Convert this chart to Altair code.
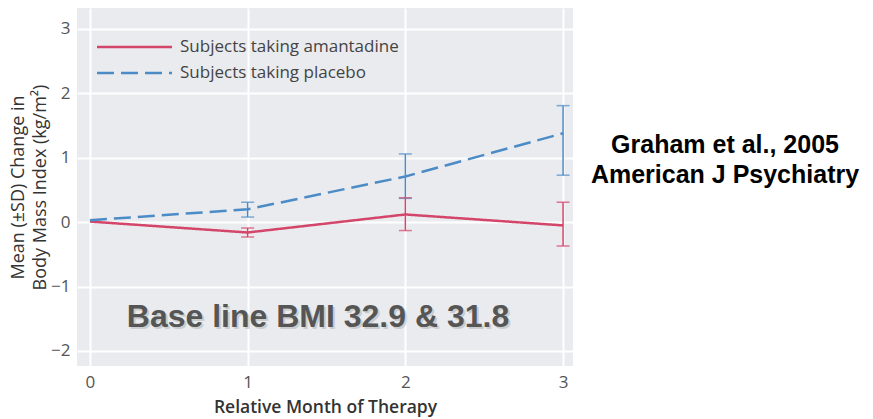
import altair as alt
import pandas as pd

# ---- data ----
months = [0, 1, 2, 3]
groups = ["Subjects taking amantadine", "Subjects taking placebo"]
amantadine_mean = [0.01, -0.16, 0.12, -0.05]
amantadine_low = [None, -0.23, -0.13, -0.37]
amantadine_high = [None, -0.09, 0.38, 0.31]
placebo_mean = [0.03, 0.20, 0.71, 1.38]
placebo_low = [None, 0.08, 0.37, 0.73]
placebo_high = [None, 0.31, 1.06, 1.81]
x_ticks = [0, 1, 2, 3]
y_ticks = [-2, -1, 0, 1, 2, 3]
colors = ["#d4456a", "#4b8bc6"]
dashes = [[1, 0], [17, 7]]

rows = []
for g, means, lows, highs in [
    (groups[0], amantadine_mean, amantadine_low, amantadine_high),
    (groups[1], placebo_mean, placebo_low, placebo_high),
]:
    for m, v, lo, hi in zip(months, means, lows, highs):
        rows.append({"group": g, "month": m, "mean": v, "low": lo, "high": hi})
df = pd.DataFrame(rows)
err = df.dropna(subset=["low"])

FONT = "Open Sans"
xscale = alt.Scale(domain=[-0.082, 3.063], nice=False, zero=False)
yscale = alt.Scale(domain=[-2.233, 3.326], nice=False, zero=False)
cscale = alt.Scale(domain=groups, range=colors)
dscale = alt.Scale(domain=groups, range=dashes)

xaxis = alt.Axis(values=x_ticks, title="Relative Month of Therapy", format="d",
                 grid=True, ticks=False, domain=False, labelPadding=8,
                 titlePadding=8, titleFontWeight=600, titleFontSize=17.5,
                 titleColor="#333333")
yaxis = alt.Axis(values=y_ticks, title=["Mean (±SD) Change in", "Body Mass Index (kg/m²)"],
                 format="d", grid=True, ticks=False, domain=False, labelPadding=7,
                 titlePadding=1, titleFontWeight="normal", titleFontSize=18,
                 titleLineHeight=22, titleColor="#333333")

X = alt.X("month:Q", scale=xscale, axis=xaxis)
C = alt.Color("group:N", scale=cscale, legend=None)

lines = alt.Chart(df).mark_line(strokeWidth=2.5).encode(
    x=X,
    y=alt.Y("mean:Q", scale=yscale, axis=yaxis),
    color=C,
    strokeDash=alt.StrokeDash("group:N", scale=dscale, legend=None),
)

bars = alt.Chart(err).mark_rule(strokeWidth=1.5).encode(
    x=X,
    y=alt.Y("low:Q", scale=yscale, axis=yaxis),
    y2="high:Q",
    color=C,
)
caps_lo = alt.Chart(err).mark_tick(orient="horizontal", size=13, thickness=1.5).encode(
    x=X, y=alt.Y("low:Q", scale=yscale, axis=yaxis), color=C,
)
caps_hi = alt.Chart(err).mark_tick(orient="horizontal", size=13, thickness=1.5).encode(
    x=X, y=alt.Y("high:Q", scale=yscale, axis=yaxis), color=C,
)

# manual legend (inside plot, top-left)
leg_layers = []
for i, g in enumerate(groups):
    ly = 39 + 26 * i
    leg_layers.append(
        alt.Chart(pd.DataFrame({"group": [g]})).mark_rule(
            strokeWidth=2.5, color=colors[i], strokeDash=dashes[i]).encode(
            x=alt.value(20), x2=alt.value(95), y=alt.value(ly))
    )
    leg_layers.append(
        alt.Chart(pd.DataFrame({"group": [g]})).mark_text(
            align="left", baseline="middle", fontSize=17, font=FONT,
            color="#444444").encode(
            x=alt.value(103), y=alt.value(ly), text="group:N")
    )

note = "Base line BMI 32.9 & 31.8"
one = pd.DataFrame({"k": [0]})
shadow = alt.Chart(one).mark_text(text=note, font="Liberation Sans", fontWeight="bold",
                                  fontSize=32, color="#b8b8b8", opacity=0.6,
                                  align="center", baseline="middle").encode(
    x=alt.value(243), y=alt.value(311))
annot = alt.Chart(one).mark_text(text=note, font="Liberation Sans", fontWeight="bold",
                                 fontSize=32, color="#555555",
                                 align="center", baseline="middle").encode(
    x=alt.value(241), y=alt.value(309))

cite = alt.Chart(one).mark_text(text=["Graham et al., 2005", "American J Psychiatry"],
                                font="Liberation Sans", fontWeight="bold", fontSize=25,
                                lineHeight=30, color="#000000",
                                align="center", baseline="middle").encode(
    x=alt.value(648), y=alt.value(137))

chart = alt.layer(bars, caps_lo, caps_hi, lines, *leg_layers,
                  shadow, annot, cite).properties(
    width=496, height=358,
    autosize=alt.AutoSizeParams(type="none"),
    padding={"left": 69, "top": 0, "right": 292, "bottom": 52},
).configure_view(fill="#e9ebef", stroke=None).configure_axis(
    labelFont=FONT, titleFont=FONT, labelFontSize=17, labelColor="#555555",
    gridColor="#ffffff", gridWidth=2,
)

chart.save("out.html", embed_options={"renderer": "svg", "actions": False})
